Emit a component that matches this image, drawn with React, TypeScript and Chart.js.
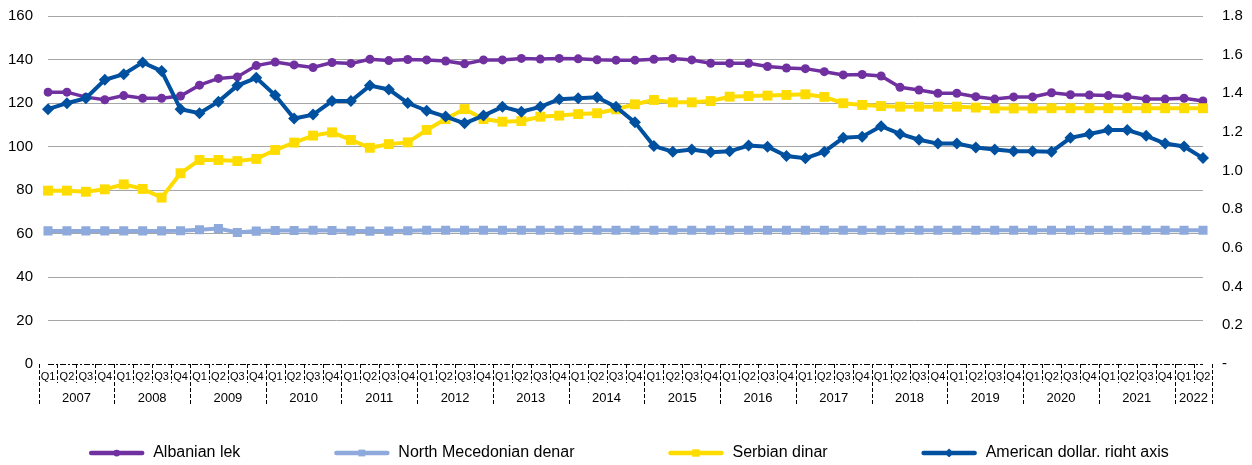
import React, { useEffect, useRef } from 'react';
import { Chart, registerables } from 'chart.js';

Chart.register(...registerables);

const years = ['2007', '2008', '2009', '2010', '2011', '2012', '2013', '2014', '2015', '2016', '2017', '2018', '2019', '2020', '2021', '2022'];
const quarters = ['Q1', 'Q2', 'Q3', 'Q4'];

const albanianLek = [
  125, 125, 122.7, 121.5, 123.4, 122.2, 122.2, 123.2, 128.2, 131.3,
  132, 137.2, 138.8, 137.5, 136.3, 138.6, 138.2, 140.1, 139.5, 140,
  139.8, 139.3, 138, 139.8, 139.8, 140.5, 140.2, 140.5, 140.3, 139.9,
  139.7, 139.7, 140.1, 140.5, 139.8, 138.3, 138.3, 138.3, 136.8, 136.1,
  135.8, 134.4, 132.9, 133.1, 132.4, 127.2, 126, 124.5, 124.5, 122.9,
  121.8, 122.8, 122.8, 124.7, 123.8, 123.7, 123.4, 122.9, 121.8, 121.8, 122.2, 120.9,
];
const northMacedonianDenar = [
  61.2, 61.2, 61.2, 61.2, 61.2, 61.2, 61.2, 61.3, 61.7, 62.3,
  60.5, 61.1, 61.4, 61.4, 61.5, 61.4, 61.2, 61.1, 61.1, 61.3,
  61.5, 61.5, 61.5, 61.5, 61.5, 61.5, 61.5, 61.5, 61.5, 61.5,
  61.5, 61.5, 61.5, 61.5, 61.5, 61.5, 61.5, 61.5, 61.5, 61.5,
  61.5, 61.5, 61.5, 61.5, 61.5, 61.5, 61.5, 61.5, 61.5, 61.5,
  61.5, 61.5, 61.5, 61.5, 61.5, 61.5, 61.5, 61.5, 61.5, 61.5, 61.5, 61.5,
];
const serbianDinar = [
  79.7, 79.7, 79.2, 80.3, 82.6, 80.5, 76.5, 87.7, 93.8, 93.8,
  93.3, 94.3, 98.4, 101.8, 105, 106.5, 103, 99.4, 101.1, 101.9,
  107.6, 112.6, 117.2, 112.6, 111.4, 111.7, 113.7, 114.2, 114.9, 115.3,
  117.1, 119.4, 121.4, 120.3, 120.3, 120.9, 122.9, 123.2, 123.4, 123.7,
  124, 122.8, 119.9, 119.1, 118.6, 118.3, 118.3, 118.3, 118.3, 117.9,
  117.5, 117.5, 117.5, 117.6, 117.6, 117.6, 117.6, 117.6, 117.6, 117.6, 117.6, 117.6,
];
const americanDollar = [
  1.318, 1.349, 1.375, 1.47, 1.499, 1.56, 1.515, 1.318, 1.297, 1.357,
  1.44, 1.48, 1.39, 1.27, 1.29, 1.36, 1.36, 1.44, 1.42, 1.35,
  1.31, 1.28, 1.245, 1.285, 1.33, 1.305, 1.33, 1.37, 1.375, 1.38,
  1.33, 1.25, 1.127, 1.098, 1.11, 1.095, 1.1, 1.13, 1.124, 1.076,
  1.064, 1.098, 1.17, 1.176, 1.23, 1.19, 1.16, 1.14, 1.14, 1.12,
  1.11, 1.1, 1.1, 1.098, 1.17, 1.19, 1.21, 1.21, 1.18, 1.14, 1.125, 1.065,
];

const seriesNames = ['Albanian lek', 'North Mecedonian denar', 'Serbian dinar', 'American dollar, right axis'];
const leftMax = 160;
const leftStep = 20;
const rightMax = 1.8;
const rightStep = 0.2;

const FONT = "'Liberation Sans', Arial, sans-serif";

const categories = years
  .flatMap((y) => quarters.map((q) => ({ year: y, quarter: q })))
  .slice(0, albanianLek.length);
const labels = categories.map((c) => c.year + ' ' + c.quarter);

const colors = ['#7030a0', '#8eaadc', '#ffdc00', '#0050a0'];
const pointStyles = ['circle', 'rect', 'rect', 'rectRot'];
const pointRadii = [4.5, 6.4, 7, 6];

function drawMarker(ctx: CanvasRenderingContext2D, style: string, x: number, y: number, r: number) {
  ctx.beginPath();
  if (style === 'circle') {
    ctx.arc(x, y, r, 0, Math.PI * 2);
  } else if (style === 'rect') {
    const s = r * Math.SQRT1_2;
    ctx.rect(x - s, y - s, 2 * s, 2 * s);
  } else {
    ctx.moveTo(x, y - r);
    ctx.lineTo(x + r, y);
    ctx.lineTo(x, y + r);
    ctx.lineTo(x - r, y);
    ctx.closePath();
  }
  ctx.fill();
}

const axisDecorPlugin = {
  id: 'axisDecor',
  afterDraw(chart: any) {
    const ctx: CanvasRenderingContext2D = chart.ctx;
    const xs = chart.scales.x;
    const area = chart.chartArea;
    const n = labels.length;
    const px = (i: number) => xs.getPixelForValue(i);
    const half = (px(1) - px(0)) / 2;
    const yAxis = area.bottom;
    ctx.save();
    ctx.strokeStyle = '#000';
    ctx.lineWidth = 1;
    ctx.setLineDash([6, 2, 2, 2]);
    ctx.beginPath();
    ctx.moveTo(area.left, yAxis + 0.5);
    ctx.lineTo(area.right, yAxis + 0.5);
    ctx.stroke();
    ctx.setLineDash([4, 2]);
    for (let i = 0; i <= n; i++) {
      const x = Math.round(i < n ? px(i) - half : px(n - 1) + half) + 0.5;
      const isYear = i % 4 === 0 || i === n;
      ctx.beginPath();
      ctx.moveTo(x, yAxis);
      ctx.lineTo(x, yAxis + (isYear ? 41 : 19));
      ctx.stroke();
    }
    ctx.setLineDash([]);
    ctx.fillStyle = '#000';
    ctx.font = '13px ' + FONT;
    ctx.textAlign = 'center';
    ctx.textBaseline = 'middle';
    years.forEach((y, yi) => {
      const first = yi * 4;
      if (first >= n) return;
      const last = Math.min(first + 3, n - 1);
      ctx.fillText(y, (px(first) + px(last)) / 2, yAxis + 34);
    });
    ctx.font = '16px ' + FONT;
    const lineLen = 55;
    const textGap = 9;
    const itemGap = 94;
    const widths = seriesNames.map((s) => lineLen + textGap + ctx.measureText(s).width);
    const total = widths.reduce((a, b) => a + b, 0) + itemGap * (seriesNames.length - 1);
    let x = chart.width / 2 - total / 2 + 3;
    const ly = yAxis + 89;
    ctx.textAlign = 'left';
    seriesNames.forEach((s, i) => {
      ctx.strokeStyle = colors[i];
      ctx.fillStyle = colors[i];
      ctx.lineWidth = 4.5;
      ctx.lineCap = 'round';
      ctx.beginPath();
      ctx.moveTo(x + 2, ly);
      ctx.lineTo(x + lineLen - 2, ly);
      ctx.stroke();
      drawMarker(ctx, pointStyles[i], x + lineLen / 2, ly, pointRadii[i] * 0.75);
      ctx.fillStyle = '#000';
      ctx.fillText(s, x + lineLen + textGap, ly);
      x += widths[i] + itemGap;
    });
    ctx.restore();
  },
};

export default function App() {
  const ref = useRef<HTMLCanvasElement>(null);
  useEffect(() => {
    if (!ref.current) return;
    const seriesData = [albanianLek, northMacedonianDenar, serbianDinar, americanDollar];
    const order = [3, 2, 1, 0];
    const fixVertical = (width: number) => (s: any) => {
      s.width = width;
      s.paddingTop = 8;
      s.paddingBottom = 8;
    };
    const chart = new Chart(ref.current, {
      type: 'line',
      data: {
        labels,
        datasets: seriesData.map((d, i) => ({
          label: seriesNames[i],
          data: d,
          yAxisID: i === 3 ? 'y2' : 'y',
          borderColor: colors[i],
          backgroundColor: colors[i],
          borderWidth: i === 0 ? 3.5 : 4,
          pointStyle: pointStyles[i] as any,
          pointRadius: pointRadii[i],
          pointBorderWidth: 0,
          pointBackgroundColor: colors[i],
          tension: 0,
          order: order[i],
        })),
      },
      options: {
        animation: false,
        responsive: true,
        maintainAspectRatio: false,
        layout: { padding: { top: 8, bottom: 68, left: 0, right: 0 } },
        plugins: {
          legend: { display: false },
          tooltip: { enabled: false },
        },
        scales: {
          x: {
            type: 'category',
            grid: { display: false, drawTicks: false },
            border: { display: false },
            ticks: {
              autoSkip: false,
              maxRotation: 0,
              minRotation: 0,
              padding: 6,
              color: '#000',
              font: { size: 11, family: FONT },
              callback: (_v: any, i: number) => categories[i].quarter,
            },
            afterFit: (s: any) => {
              s.height = 33;
            },
          },
          y: {
            position: 'left',
            min: 0,
            max: leftMax,
            ticks: {
              stepSize: leftStep,
              padding: 15,
              color: '#000',
              font: { size: 15, family: FONT },
            },
            grid: {
              drawTicks: false,
              color: (c: any) => (c.tick && c.tick.value === 0 ? 'rgba(0,0,0,0)' : '#a6a6a6'),
              lineWidth: 1,
            },
            border: { display: false },
            afterFit: fixVertical(40),
          },
          y2: {
            position: 'right',
            min: 0,
            max: rightMax,
            ticks: {
              stepSize: rightStep,
              padding: 19,
              color: '#000',
              font: { size: 15, family: FONT },
              callback: (v: any) => (Math.abs(Number(v)) < 1e-9 ? '-' : Number(v).toFixed(1)),
            },
            grid: { drawOnChartArea: false, drawTicks: false },
            border: { display: false },
            afterFit: fixVertical(41),
          },
        },
      },
      plugins: [axisDecorPlugin],
    });
    return () => chart.destroy();
  }, []);
  return (
    <div style={{ width: 1236, height: 457, marginBottom: -8, position: 'relative' }}>
      <canvas ref={ref} />
    </div>
  );
}
